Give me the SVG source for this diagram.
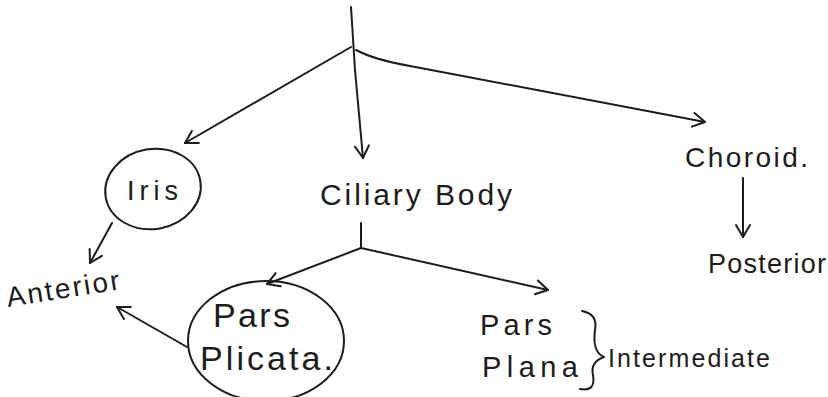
<svg xmlns="http://www.w3.org/2000/svg" width="828" height="397" viewBox="0 0 828 397">
<style>
  .t{font-family:"Liberation Sans","DejaVu Sans",sans-serif;fill:#1c1c1c}
  .ln{fill:none;stroke:#1c1c1c;stroke-width:2;stroke-linecap:round;stroke-linejoin:round}
  .ar{marker-end:url(#ah)}
</style>
<defs>
  <marker id="ah" markerUnits="userSpaceOnUse" markerWidth="30" markerHeight="30" viewBox="-15 -15 30 30" refX="0" refY="0" orient="auto">
    <path d="M-12,-7 L0,0 L-12,7" fill="none" stroke="#1c1c1c" stroke-width="2" stroke-linecap="round" stroke-linejoin="round"/>
  </marker>
</defs>
<rect width="828" height="397" fill="#ffffff"/>
<g id="connectors">
  <path class="ln ar" d="M351,7 L355,70 L363,158"/>
  <path class="ln ar" d="M351,47 L185,143"/>
  <path class="ln ar" d="M356,50 Q375,60 410,66 L705,122"/>
  <path class="ln ar" d="M112,223 L90,263"/>
  <path class="ln" d="M361,223 L361,248"/>
  <path class="ln ar" d="M361,248 L267,284"/>
  <path class="ln ar" d="M361,248 L548,290"/>
  <path class="ln ar" d="M187,347 L117,307"/>
  <path class="ln ar" d="M743,178 L743,237"/>
  <path class="ln" d="M582,311 Q598,314 595,330 Q592,352 604,357 Q590,362 593,375 Q596,392 580,389"/>
</g>
<g id="iris">
  <ellipse class="ln" cx="153" cy="189" rx="48" ry="40" transform="rotate(-10 153 189)"/>
  <text class="t" x="127" y="200" font-size="27" textLength="51">Iris</text>
</g>
<g id="ciliary-body">
  <text class="t" x="320" y="205" font-size="30" textLength="192">Ciliary Body</text>
</g>
<g id="choroid">
  <text class="t" x="685" y="167" font-size="28" textLength="123">Choroid.</text>
</g>
<g id="posterior">
  <text class="t" x="708" y="273" font-size="27" textLength="118">Posterior</text>
</g>
<g id="anterior">
  <text class="t" x="8" y="307" font-size="28" textLength="114" transform="rotate(-9 8 307)">Anterior</text>
</g>
<g id="pars-plicata">
  <ellipse class="ln" cx="266" cy="341" rx="78" ry="60"/>
  <text class="t" x="213" y="327" font-size="34" textLength="77">Pars</text>
  <text class="t" x="200" y="370" font-size="34" textLength="133">Plicata.</text>
</g>
<g id="pars-plana">
  <text class="t" x="480" y="335" font-size="29" textLength="72">Pars</text>
  <text class="t" x="482" y="377" font-size="29" textLength="96">Plana</text>
</g>
<g id="intermediate">
  <text class="t" x="608" y="367" font-size="25" textLength="162">Intermediate</text>
</g>
</svg>
